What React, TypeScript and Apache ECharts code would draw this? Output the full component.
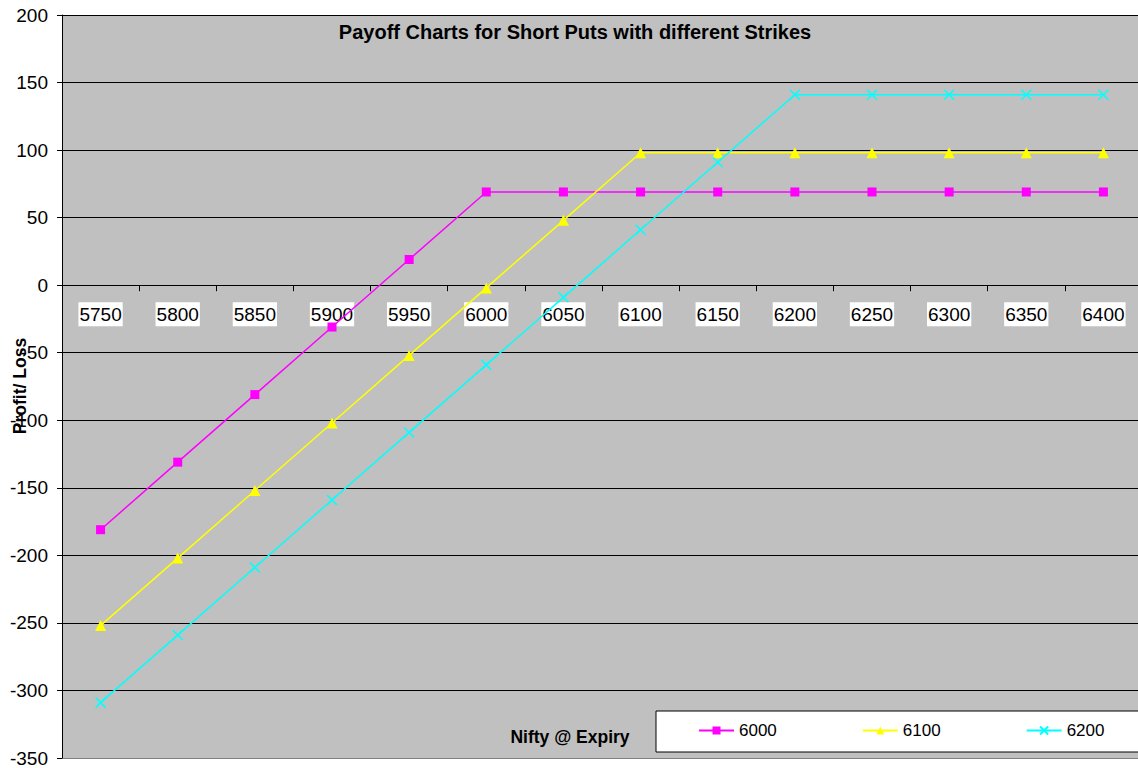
import React, { useEffect, useRef } from "react";
import * as echarts from "echarts";

const categories = ["5750", "5800", "5850", "5900", "5950", "6000", "6050", "6100", "6150", "6200", "6250", "6300", "6350", "6400"];
const seriesNames = ["6000", "6100", "6200"];
const strike6000 = [-181, -131, -81, -31, 19, 69, 69, 69, 69, 69, 69, 69, 69, 69];
const strike6100 = [-252, -202, -152, -102, -52, -2, 48, 98, 98, 98, 98, 98, 98, 98];
const strike6200 = [-309, -259, -209, -159, -109, -59, -9, 41, 91, 141, 141, 141, 141, 141];
const titleText = "Payoff Charts for Short Puts with different Strikes";
const xName = "Nifty @ Expiry";
const yName = "Profit/ Loss";

const FONT = "'Liberation Sans', Arial, sans-serif";

export default function App() {
  const ref = useRef<HTMLDivElement>(null);
  useEffect(() => {
    document.body.style.margin = "0";
    const chart = echarts.init(ref.current!, null, { renderer: "svg" });
    const splitColors = ["#808080"].concat(new Array(11).fill("#000000"));
    const gridTop = 15;
    const gridHeight = 743;
    const yMin = -350;
    const yMax = 200;
    const zeroOffset = -(gridHeight * (0 - yMin)) / (yMax - yMin);
    chart.setOption({
      animation: false,
      backgroundColor: "#ffffff",
      textStyle: { fontFamily: FONT },
      grid: {
        left: 62,
        top: gridTop,
        width: 1080,
        height: gridHeight,
        backgroundColor: "#c0c0c0",
        show: true,
        borderWidth: 0,
        containLabel: false,
        outerBoundsMode: "none",
      },
      xAxis: {
        type: "category",
        data: categories,
        boundaryGap: true,
        position: "bottom",
        offset: zeroOffset,
        axisLine: { show: true, onZero: false, lineStyle: { color: "#000", width: 1 } },
        axisTick: { show: true, length: 6, lineStyle: { color: "#000" } },
        axisLabel: {
          color: "#000",
          fontSize: 19,
          fontFamily: FONT,
          backgroundColor: "#ffffff",
          padding: [3, 1, 2, 1],
          margin: 17,
        },
        splitLine: { show: false },
      },
      yAxis: {
        type: "value",
        min: yMin,
        max: yMax,
        interval: 50,
        axisLine: { show: true, lineStyle: { color: "#000", width: 1 } },
        axisTick: { show: true, length: 5, lineStyle: { color: "#000" } },
        axisLabel: { color: "#000", fontSize: 19, fontFamily: FONT, margin: 14 },
        splitLine: { show: true, lineStyle: { color: splitColors, width: 1 } },
      },
      legend: {
        left: 698,
        top: 722,
        itemWidth: 35,
        itemHeight: 10,
        itemGap: 85,
        padding: 0,
        textStyle: { fontSize: 17, color: "#000", fontFamily: FONT, padding: [0, 0, 0, 0] },
        data: seriesNames,
      },
      graphic: [
        {
          type: "rect",
          shape: { x: 656, y: 711, width: 500, height: 41 },
          style: { fill: "#ffffff", stroke: "#000000", lineWidth: 1 },
          z: 0,
          zlevel: 0,
        },
        {
          type: "text",
          x: 575,
          y: 32,
          style: { text: titleText, font: `bold 20px ${FONT}`, fill: "#000", textAlign: "center", textVerticalAlign: "middle" },
        },
        {
          type: "text",
          x: 570,
          y: 737,
          style: { text: xName, font: `bold 17.5px ${FONT}`, fill: "#000", textAlign: "center", textVerticalAlign: "middle" },
        },
        {
          type: "text",
          x: 20,
          y: 386,
          rotation: Math.PI / 2,
          z: 100,
          style: { text: yName, font: `bold 17.5px ${FONT}`, fill: "#000", textAlign: "center", textVerticalAlign: "middle" },
        },
      ],
      series: [
        {
          name: seriesNames[0],
          type: "line",
          data: strike6000,
          symbol: "rect",
          symbolSize: 9,
          lineStyle: { color: "#ff00ff", width: 1.5 },
          itemStyle: { color: "#ff00ff" },
          z: 3,
        },
        {
          name: seriesNames[1],
          type: "line",
          data: strike6100,
          symbol: "triangle",
          symbolSize: 11,
          lineStyle: { color: "#ffff00", width: 1.5 },
          itemStyle: { color: "#ffff00" },
          z: 3,
        },
        {
          name: seriesNames[2],
          type: "line",
          data: strike6200,
          symbol: "path://M0,0L10,10M10,0L0,10",
          symbolSize: 10,
          lineStyle: { color: "#00ffff", width: 1.5 },
          itemStyle: { color: "#00ffff", borderColor: "#00ffff", borderWidth: 1.5 },
          z: 3,
        },
      ],
    });
    return () => chart.dispose();
  }, []);
  return <div ref={ref} style={{ width: 1138, height: 768 }} />;
}
